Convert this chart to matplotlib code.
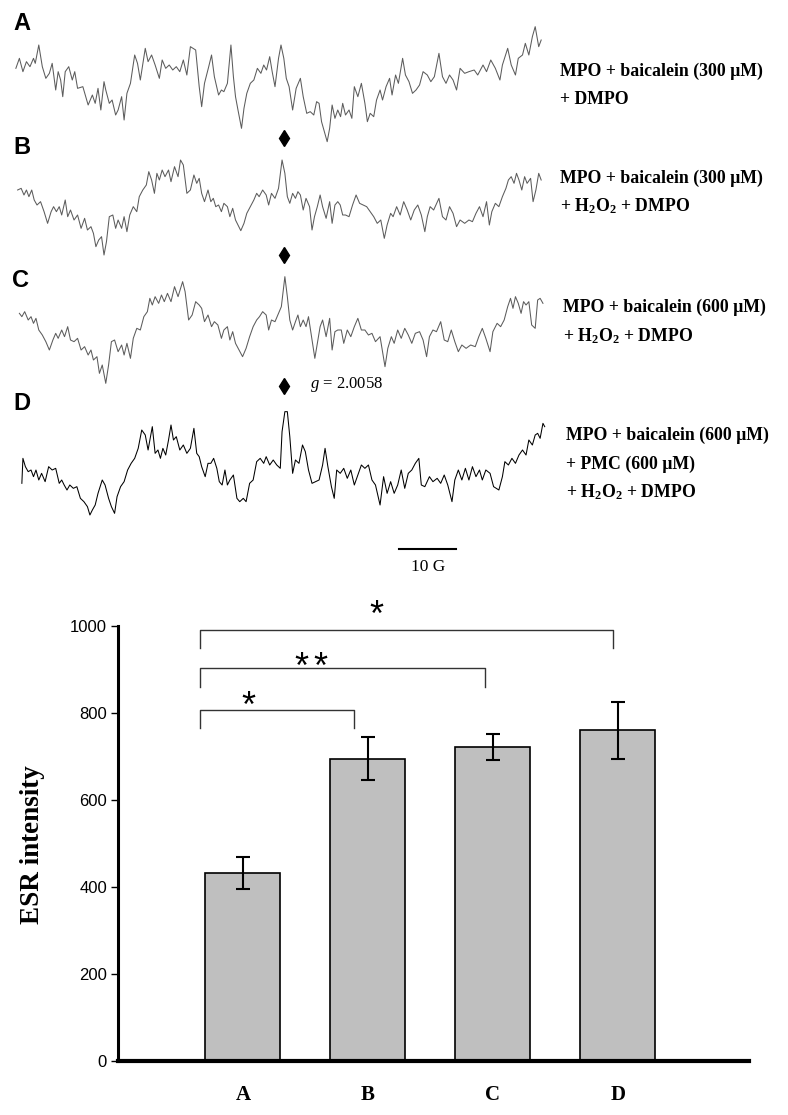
import numpy as np
import matplotlib
matplotlib.use("Agg")
import matplotlib.pyplot as plt

plt.rcParams['mathtext.fontset'] = 'custom'
plt.rcParams['mathtext.rm'] = 'Liberation Serif:bold'
plt.rcParams['mathtext.bf'] = 'Liberation Serif:bold'
plt.rcParams['mathtext.it'] = 'Liberation Serif:italic'

# ---- ESR spectra (field channel, intensity a.u.) ----
chA = [45, 55, 65, 75, 85, 95, 100, 110, 120, 130, 140, 148, 158, 165, 172, 178, 185, 195, 205, 212,
       220, 235, 250, 262, 270, 278, 286, 295, 300, 310, 318, 328, 335, 345, 352, 360, 370, 382, 390, 398,
       412, 420, 430, 440, 452, 460, 470, 480, 490, 500, 510, 520, 530, 540, 555, 565, 572, 580, 592, 600,
       608, 620, 628, 635, 645, 655, 662, 668, 675, 685, 692, 700, 710, 720, 730, 740, 748, 756, 765, 772,
       780, 790, 797, 805, 812, 820, 830, 840, 852, 860, 870, 880, 890, 898, 905, 912, 920, 928, 935, 942,
       950, 958, 966, 972, 980, 990, 998, 1005, 1015, 1025, 1035, 1042, 1050, 1060, 1068, 1078, 1085, 1095, 1105, 1112,
       1122, 1130, 1142, 1150, 1160, 1170, 1180, 1190, 1200, 1212, 1222, 1232, 1245, 1255, 1265, 1275, 1285, 1295, 1305, 1318,
       1330, 1345, 1355, 1370, 1380, 1392, 1405, 1418, 1425, 1440, 1450, 1462, 1470, 1482, 1490, 1500, 1510, 1518, 1528, 1535]
intA = [245, 275, 235, 265, 250, 275, 260, 315, 250, 215, 230, 260, 180, 235, 210, 160, 235, 250, 210, 235,
        185, 190, 135, 165, 140, 185, 120, 205, 180, 140, 150, 105, 120, 160, 90, 170, 200, 285, 260, 210,
        305, 265, 285, 255, 215, 270, 245, 255, 240, 250, 235, 270, 225, 310, 300, 190, 130, 200, 250, 285,
        220, 165, 180, 175, 200, 315, 220, 160, 120, 65, 125, 170, 200, 210, 245, 230, 255, 240, 280, 235,
        190, 275, 315, 275, 215, 190, 120, 185, 215, 160, 110, 115, 105, 145, 140, 85, 55, 25, 65, 135,
        95, 120, 100, 140, 105, 120, 95, 190, 160, 200, 140, 85, 110, 100, 150, 180, 150, 190, 215, 165,
        225, 200, 275, 225, 205, 170, 180, 195, 235, 225, 205, 220, 290, 220, 200, 225, 210, 180, 245, 230,
        235, 240, 225, 255, 235, 270, 245, 210, 255, 305, 255, 225, 275, 285, 320, 285, 340, 370, 310, 330]

chB = [50, 60, 68, 75, 82, 90, 97, 105, 115, 125, 135, 145, 152, 160, 168, 175, 185, 192, 200, 210,
       220, 230, 240, 248, 258, 265, 272, 280, 288, 295, 302, 310, 320, 328, 335, 345, 352, 360, 368, 378,
       388, 395, 405, 415, 422, 430, 438, 445, 452, 460, 468, 478, 485, 495, 505, 512, 520, 530, 540, 550,
       558, 565, 572, 580, 590, 598, 605, 612, 620, 628, 635, 645, 652, 660, 668, 675, 683, 692, 700, 710,
       720, 728, 735, 745, 755, 762, 770, 780, 790, 800, 808, 815, 822, 830, 838, 845, 852, 860, 868, 878,
       885, 892, 900, 908, 915, 925, 935, 942, 950, 958, 965, 972, 980, 990, 1000, 1010, 1020, 1030, 1040, 1050,
       1060, 1070, 1080, 1090, 1098, 1108, 1115, 1125, 1135, 1145, 1155, 1165, 1175, 1185, 1195, 1205, 1212, 1220, 1230, 1245,
       1255, 1265, 1275, 1285, 1295, 1305, 1318, 1330, 1340, 1350, 1360, 1370, 1380, 1388, 1395, 1405, 1415, 1425, 1435, 1442,
       1450, 1458, 1465, 1472, 1480, 1488, 1495, 1505, 1512, 1520, 1528, 1535]
intB = [240, 245, 225, 240, 220, 240, 210, 195, 205, 175, 140, 175, 190, 175, 190, 165, 210, 160, 180, 150,
        165, 125, 155, 120, 130, 110, 70, 90, 100, 45, 85, 160, 165, 125, 150, 125, 160, 115, 165, 190,
        175, 220, 240, 255, 295, 270, 230, 290, 270, 300, 280, 300, 265, 310, 280, 330, 315, 230, 240, 285,
        260, 275, 230, 205, 240, 205, 215, 190, 195, 175, 200, 190, 160, 185, 150, 135, 118, 140, 170, 190,
        210, 230, 220, 240, 225, 195, 230, 215, 245, 330, 290, 220, 200, 230, 215, 235, 225, 180, 215, 190,
        120, 160, 190, 225, 190, 155, 205, 140, 195, 205, 195, 165, 165, 160, 195, 225, 200, 195, 190, 175,
        160, 140, 150, 95, 135, 170, 160, 190, 165, 205, 180, 150, 180, 195, 165, 115, 160, 190, 180, 215,
        160, 150, 190, 170, 130, 150, 140, 150, 145, 170, 190, 160, 205, 135, 175, 200, 190, 220, 245, 270,
        280, 260, 290, 270, 240, 280, 260, 275, 205, 240, 290, 270]

chC = [55, 62, 70, 80, 88, 95, 102, 110, 120, 130, 140, 150, 158, 165, 175, 183, 192, 200, 210, 220,
       230, 240, 250, 258, 265, 275, 282, 290, 300, 308, 316, 325, 335, 345, 352, 360, 370, 378, 388, 398,
       408, 418, 425, 432, 440, 450, 458, 466, 475, 485, 495, 505, 518, 525, 535, 545, 555, 565, 572, 580,
       590, 600, 608, 618, 628, 635, 645, 652, 660, 668, 678, 688, 698, 708, 718, 728, 736, 745, 755, 762,
       770, 780, 790, 798, 808, 815, 822, 830, 838, 845, 852, 860, 868, 875, 885, 893, 900, 908, 915, 925,
       935, 942, 950, 958, 968, 975, 985, 995, 1005, 1015, 1025, 1035, 1045, 1055, 1065, 1078, 1092, 1100, 1110, 1118,
       1128, 1138, 1148, 1158, 1168, 1178, 1190, 1200, 1210, 1218, 1228, 1238, 1250, 1260, 1270, 1280, 1290, 1300, 1310, 1322,
       1335, 1348, 1358, 1368, 1378, 1390, 1398, 1410, 1420, 1430, 1440, 1448, 1455, 1462, 1470, 1478, 1485, 1492, 1500, 1508,
       1518, 1525, 1532, 1540]
intC = [230, 220, 235, 210, 220, 200, 215, 180, 165, 145, 120, 150, 170, 155, 180, 160, 190, 150, 145, 155,
        120, 130, 105, 120, 90, 100, 50, 75, 20, 75, 145, 150, 115, 135, 105, 140, 95, 155, 185, 180,
        220, 235, 275, 255, 280, 260, 285, 265, 290, 265, 310, 280, 325, 295, 210, 225, 265, 255, 245, 205,
        225, 190, 205, 195, 155, 180, 190, 150, 175, 140, 120, 100, 125, 160, 190, 210, 220, 235, 225, 180,
        210, 205, 230, 250, 340, 280, 210, 180, 205, 225, 190, 210, 190, 220, 150, 95, 140, 190, 210, 160,
        215, 120, 175, 180, 180, 140, 180, 160, 190, 215, 180, 180, 165, 170, 145, 160, 70, 125, 160, 140,
        180, 155, 185, 165, 140, 170, 175, 150, 100, 160, 180, 175, 205, 150, 145, 180, 145, 115, 135, 125,
        135, 130, 160, 185, 155, 115, 175, 200, 190, 210, 250, 275, 245, 280, 260, 230, 265, 255, 265, 195,
        185, 270, 275, 260]

chD = [62, 65, 72, 80, 88, 95, 102, 110, 118, 128, 138, 148, 158, 168, 175, 182, 190, 198, 208, 218,
       228, 238, 248, 255, 262, 270, 278, 290, 298, 308, 316, 325, 332, 342, 352, 362, 372, 382, 392, 402,
       412, 420, 432, 440, 448, 455, 462, 470, 478, 485, 492, 500, 510, 520, 530, 540, 550, 558, 565, 572,
       582, 590, 598, 606, 615, 622, 630, 638, 645, 652, 662, 672, 680, 690, 698, 708, 718, 728, 738, 748,
       755, 765, 775, 785, 795, 800, 808, 815, 822, 830, 838, 848, 858, 866, 875, 885, 895, 905, 915, 922,
       930, 940, 948, 955, 965, 975, 985, 995, 1005, 1015, 1025, 1035, 1045, 1055, 1065, 1078, 1088, 1098, 1108, 1118,
       1128, 1138, 1148, 1158, 1168, 1178, 1188, 1195, 1205, 1218, 1228, 1240, 1250, 1260, 1270, 1282, 1290, 1300, 1310, 1320,
       1330, 1340, 1350, 1360, 1368, 1378, 1390, 1400, 1415, 1425, 1432, 1442, 1452, 1462, 1472, 1482, 1492, 1500, 1510, 1518,
       1525, 1532, 1540, 1545]
intD = [140, 215, 190, 175, 180, 160, 180, 150, 170, 145, 190, 180, 185, 140, 150, 135, 120, 135, 125, 130,
        95, 85, 70, 45, 60, 75, 110, 150, 135, 95, 70, 50, 100, 130, 145, 180, 200, 215, 245, 300,
        285, 240, 310, 230, 240, 215, 245, 225, 270, 315, 270, 280, 240, 255, 230, 245, 305, 230, 220, 190,
        160, 200, 200, 215, 185, 145, 135, 180, 135, 150, 165, 95, 85, 95, 85, 140, 150, 205, 215, 200,
        220, 195, 210, 195, 185, 295, 355, 355, 280, 170, 210, 200, 255, 235, 180, 140, 145, 150, 195, 245,
        190, 130, 95, 180, 170, 185, 155, 180, 135, 165, 195, 185, 195, 150, 135, 75, 160, 110, 145, 110,
        135, 180, 125, 170, 180, 200, 215, 135, 130, 160, 145, 155, 140, 165, 135, 85, 150, 180, 150, 185,
        150, 190, 160, 180, 150, 180, 170, 130, 120, 160, 205, 195, 215, 200, 225, 240, 225, 270, 255, 285,
        290, 275, 320, 310]

CH_PER_G = 16.2          # field channels per gauss
DPPH_CH = 805            # g = 2.0058 line position

# ---- bar chart ----
groups = ['A', 'B', 'C', 'D']
esr_mean = [432, 695, 721, 760]
esr_err = [36, 50, 30, 65]
# (left, right, bracket height, leg end, stars x, stars baseline)
sig = [(0.66, 1.89, 807, 766, [1.04], 791),
       (0.66, 2.94, 903, 860, [1.47, 1.62], 881),
       (0.66, 3.96, 991, 949, [2.07], 1000)]

labels = [["MPO + baicalein (300 μM)", "+ DMPO"],
          ["MPO + baicalein (300 μM)", r"+ H$_2$O$_2$ + DMPO"],
          ["MPO + baicalein (600 μM)", r"+ H$_2$O$_2$ + DMPO"],
          ["MPO + baicalein (600 μM)", "+ PMC (600 μM)", r"+ H$_2$O$_2$ + DMPO"]]

W, H = 788, 1115
fig = plt.figure(figsize=(W / 100, H / 100), dpi=100)


def box(x, y, w, h):
    return [x / W, 1 - (y + h) / H, w / W, h / H]


def ftext(x, y, s, **kw):
    fig.text(x / W, 1 - y / H, s, **kw)


# spectra panels
panels = [(chA, intA, (0, 0, 550, 150), 450, '#5c5c5c'),
          (chB, intB, (0, 140, 550, 130), 390, '#5c5c5c'),
          (chC, intC, (0, 250, 550, 140), 420, '#5c5c5c'),
          (chD, intD, (0, 370, 550, 160), 480, 'black')]
diamonds = [36, 45, 12, None]
axs = []
for (ch, sig_int, bx, top, col), dm in zip(panels, diamonds):
    a = fig.add_axes(box(*bx))
    a.plot(ch, sig_int, color=col, lw=0.75)
    if dm is not None:
        a.plot([DPPH_CH], [dm], marker='d', ms=8, color='black', clip_on=False)
    a.set_xlim(0, 1560)
    a.set_ylim(0, top)
    a.axis('off')
    axs.append(a)

# scale bar (10 G)
sb0 = 1132
axs[3].plot([sb0, sb0 + 10 * CH_PER_G], [-57, -57], color='black', lw=1.5, clip_on=False)
axs[3].text(sb0 + 5 * CH_PER_G, -111, "10 G", ha='center', va='center', fontsize=12.5,
            family='Liberation Serif', clip_on=False)

ftext(310, 385, r"$g$ = 2.0058", ha='left', va='center', fontsize=12, family='Liberation Serif')

for s, (x, y) in zip(groups, [(13, 24), (13, 147), (12, 281), (13, 403)]):
    ftext(x, y, s, ha='left', va='center', fontsize=17, weight='bold', family='Liberation Sans')

label_pos = [(560, [71, 100]), (560, [178, 206]), (563, [307, 336]), (566, [435, 464, 492])]
for lines, (x, ys) in zip(labels, label_pos):
    for s, y in zip(lines, ys):
        ftext(x, y, s, ha='left', va='center', fontsize=12.8, weight='bold', family='Liberation Serif')

# bar chart
ax = fig.add_axes(box(118, 626, 631, 435))
xpos = np.arange(1, len(groups) + 1)
ax.bar(xpos, esr_mean, width=0.6, color='#bfbfbf', edgecolor='black', lw=1.2, zorder=2)
ax.errorbar(xpos, esr_mean, yerr=esr_err, fmt='none', ecolor='black', elinewidth=1.5,
            capsize=4.8, capthick=1.5, zorder=3)
ax.set_xlim(0, 5.05)
ax.set_ylim(0, 1000)
ax.set_yticks(range(0, 1001, 200))
ax.set_yticklabels([str(v) for v in range(0, 1001, 200)], family='Liberation Sans', fontsize=12)
ax.set_xticks(xpos)
ax.set_xticklabels(groups, family='Liberation Serif', weight='bold', fontsize=15)
ax.tick_params(axis='y', direction='out', length=5, width=1, pad=3)
ax.tick_params(axis='x', length=0, pad=17)
for sp in ['top', 'right']:
    ax.spines[sp].set_visible(False)
ax.spines['left'].set_linewidth(2.2)
ax.spines['bottom'].set_linewidth(3)

for x0, x1, yb, yl, sx, sy in sig:
    ax.plot([x0, x0, x1, x1], [yl, yb, yb, yl], color='#333333', lw=1, clip_on=False)
    for xs in sx:
        ax.text(xs, sy, '*', ha='center', va='baseline', fontsize=26, family='Liberation Sans',
                clip_on=False)

ftext(33, 845, "ESR intensity", rotation=90, ha='center', va='center', fontsize=19.5,
      weight='bold', family='Liberation Serif')

fig.savefig('out.png', dpi=100)
